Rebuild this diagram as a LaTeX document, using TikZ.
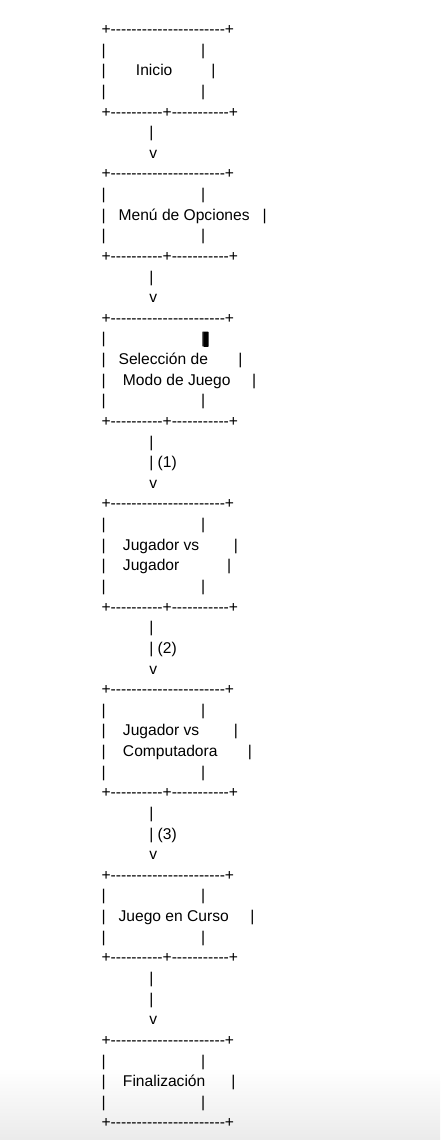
\documentclass[tikz,border=0pt]{standalone}
\usepackage{fontspec}
\newfontfamily\ascfont{Liberation Sans}
\tikzset{
  ln/.style={anchor=base west, inner sep=0pt, outer sep=0pt, text=black,
    font=\ascfont\fontsize{11.7pt}{14pt}\selectfont},
  cursorblock/.style={fill=black, draw=none, rounded corners=0.4pt, inner sep=0pt,
    minimum width=3.9pt, minimum height=11.4pt}
}
\begin{document}
\begin{tikzpicture}[x=0.75pt,y=-0.75pt]
\useasboundingbox (0,0) rectangle (440,1140);
\shade[top color=white, bottom color=black!8, draw=none] (0,1068) rectangle (440,1140);
\def\X{101.6}
% box 1
\node[ln] (l0)  at (\X, 34.50) {+----------------------+};
\node[ln] (l1)  at (\X, 55.13) {|~~~~~~~~~~~~~~~~~~~~~~|};
\node[ln] (l2)  at (\X, 75.76) {|~~~~~~~Inicio~~~~~~~~~|};
\node[ln] (l3)  at (\X, 96.39) {|~~~~~~~~~~~~~~~~~~~~~~|};
\node[ln] (l4)  at (\X,117.02) {+----------+-----------+};
\node[ln] (l5)  at (\X,137.65) {~~~~~~~~~~~|};
\node[ln] (l6)  at (\X,158.28) {~~~~~~~~~~~v};
% box 2
\node[ln] (l7)  at (\X,178.91) {+----------------------+};
\node[ln] (l8)  at (\X,199.54) {|~~~~~~~~~~~~~~~~~~~~~~|};
\node[ln] (l9)  at (\X,220.17) {|~~~Menú de Opciones~~~|};
\node[ln] (l10) at (\X,240.80) {|~~~~~~~~~~~~~~~~~~~~~~|};
\node[ln] (l11) at (\X,261.43) {+----------+-----------+};
\node[ln] (l12) at (\X,282.06) {~~~~~~~~~~~|};
\node[ln] (l13) at (\X,302.69) {~~~~~~~~~~~v};
% box 3
\node[ln] (l14) at (\X,323.32) {+----------------------+};
\node[ln] (l15) at (\X,343.95) {|~~~~~~~~~~~~~~~~~~~~~~|};
\node[cursorblock] (cur) at (205.9,339.2) {};
\node[ln] (l16) at (\X,364.58) {|~~~Selección de~~~~~~~|};
\node[ln] (l17) at (\X,385.21) {|~~~~Modo de Juego~~~~~|};
\node[ln] (l18) at (\X,405.84) {|~~~~~~~~~~~~~~~~~~~~~~|};
\node[ln] (l19) at (\X,426.47) {+----------+-----------+};
\node[ln] (l20) at (\X,447.10) {~~~~~~~~~~~|};
\node[ln] (l21) at (\X,467.73) {~~~~~~~~~~~|~(1)};
\node[ln] (l22) at (\X,488.36) {~~~~~~~~~~~v};
% box 4
\node[ln] (l23) at (\X,508.99) {+----------------------+};
\node[ln] (l24) at (\X,529.62) {|~~~~~~~~~~~~~~~~~~~~~~|};
\node[ln] (l25) at (\X,550.25) {|~~~~Jugador vs~~~~~~~~|};
\node[ln] (l26) at (\X,570.88) {|~~~~Jugador~~~~~~~~~~~|};
\node[ln] (l27) at (\X,591.51) {|~~~~~~~~~~~~~~~~~~~~~~|};
\node[ln] (l28) at (\X,612.14) {+----------+-----------+};
\node[ln] (l29) at (\X,632.77) {~~~~~~~~~~~|};
\node[ln] (l30) at (\X,653.40) {~~~~~~~~~~~|~(2)};
\node[ln] (l31) at (\X,674.03) {~~~~~~~~~~~v};
% box 5
\node[ln] (l32) at (\X,694.66) {+----------------------+};
\node[ln] (l33) at (\X,715.29) {|~~~~~~~~~~~~~~~~~~~~~~|};
\node[ln] (l34) at (\X,735.92) {|~~~~Jugador vs~~~~~~~~|};
\node[ln] (l35) at (\X,756.55) {|~~~~Computadora~~~~~~~|};
\node[ln] (l36) at (\X,777.18) {|~~~~~~~~~~~~~~~~~~~~~~|};
\node[ln] (l37) at (\X,797.81) {+----------+-----------+};
\node[ln] (l38) at (\X,818.44) {~~~~~~~~~~~|};
\node[ln] (l39) at (\X,839.07) {~~~~~~~~~~~|~(3)};
\node[ln] (l40) at (\X,859.70) {~~~~~~~~~~~v};
% box 6
\node[ln] (l41) at (\X,880.33) {+----------------------+};
\node[ln] (l42) at (\X,900.96) {|~~~~~~~~~~~~~~~~~~~~~~|};
\node[ln] (l43) at (\X,921.59) {|~~~Juego en Curso~~~~~|};
\node[ln] (l44) at (\X,942.22) {|~~~~~~~~~~~~~~~~~~~~~~|};
\node[ln] (l45) at (\X,962.85) {+----------+-----------+};
\node[ln] (l46) at (\X,983.48) {~~~~~~~~~~~|};
\node[ln] (l47) at (\X,1004.11) {~~~~~~~~~~~|};
\node[ln] (l48) at (\X,1024.74) {~~~~~~~~~~~v};
% box 7
\node[ln] (l49) at (\X,1045.37) {+----------------------+};
\node[ln] (l50) at (\X,1066.00) {|~~~~~~~~~~~~~~~~~~~~~~|};
\node[ln] (l51) at (\X,1086.63) {|~~~~Finalización~~~~~~|};
\node[ln] (l52) at (\X,1107.26) {|~~~~~~~~~~~~~~~~~~~~~~|};
\node[ln] (l53) at (\X,1127.89) {+----------------------+};
\end{tikzpicture}
\end{document}
